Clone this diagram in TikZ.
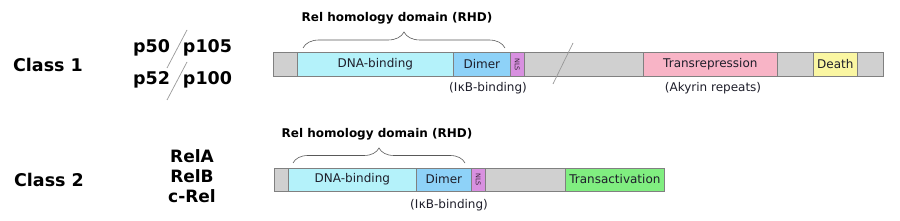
\documentclass[tikz,border=0pt]{standalone}
\usepackage{fontspec}
\setmainfont{DejaVu Sans}
\usetikzlibrary{decorations.pathreplacing}
\definecolor{segline}{HTML}{808080}
\definecolor{greyseg}{HTML}{D0D0D0}
\definecolor{dnacol}{HTML}{B4F2FA}
\definecolor{dimcol}{HTML}{8ED2F8}
\definecolor{nlscol}{HTML}{D890E0}
\definecolor{transrep}{HTML}{F8B4C6}
\definecolor{deathcol}{HTML}{FAF6A2}
\definecolor{transact}{HTML}{80EE80}
\definecolor{txtcol}{HTML}{1E1E2A}
\tikzset{
  seg/.style={draw=segline, line width=0.7pt, inner sep=0pt, anchor=west, font=\fontsize{12}{14}\selectfont, text=txtcol},
  biglab/.style={font=\bfseries\fontsize{17.5}{20}\selectfont, text=black, inner sep=0pt},
  protlab/.style={font=\bfseries\fontsize{17}{20}\selectfont, text=black, inner sep=0pt, align=center},
  rhdlab/.style={font=\bfseries\fontsize{12}{14}\selectfont, text=black, inner sep=0pt},
  sublab/.style={font=\fontsize{12}{14}\selectfont, text=txtcol, inner sep=0pt},
  nlslab/.style={font=\fontsize{6.5}{7}\selectfont, text=black!75!nlscol, rotate=-90, inner sep=0pt},
  bracestyle/.style={draw=black!65, line width=0.6pt, decorate},
  slashline/.style={draw=black!40, line width=0.7pt}
}
\begin{document}
\begin{tikzpicture}[x=1pt,y=-1pt]
\useasboundingbox (0,0) rectangle (900,221);
% left labels
\node[biglab] (c1) at (48,65) {Class 1};
\node[biglab] (c2) at (49,180) {Class 2};
\node[biglab] (p50) at (151.5,48) {p50};
\node[biglab] (p105) at (207.5,48) {p105};
\node[biglab] (p52) at (151.5,80) {p52};
\node[biglab] (p100) at (207.5,80) {p100};
\coordinate (s1a) at (187,30); \coordinate (s1b) at (167,68);
\coordinate (s2a) at (187,62); \coordinate (s2b) at (167,100);
\draw[slashline] (s1a) -- (s1b);
\draw[slashline] (s2a) -- (s2b);
\node[protlab] (rela) at (192,156) {RelA};
\node[protlab] (relb) at (192,176) {RelB};
\node[protlab] (crel) at (192,196) {c-Rel};
% class 1 bar
\def\ya{64.5}
\def\ha{23.5}
\node[seg, fill=greyseg, minimum width=24pt, minimum height=\ha pt] (g1) at (273,\ya) {};
\node[seg, fill=dnacol, minimum width=156pt, minimum height=\ha pt] (dna1) at (297,\ya) {DNA-binding};
\node[seg, fill=dimcol, minimum width=57pt, minimum height=\ha pt] (dim1) at (453,\ya) {Dimer};
\node[seg, fill=nlscol, minimum width=14pt, minimum height=\ha pt] (nls1) at (510,\ya) {};
\node[nlslab] at (nls1.center) {NLS};
\node[seg, fill=greyseg, minimum width=119pt, minimum height=\ha pt] (g2) at (524,\ya) {};
\node[seg, fill=transrep, minimum width=134pt, minimum height=\ha pt] (trep) at (643,\ya) {Transrepression};
\node[seg, fill=greyseg, minimum width=36pt, minimum height=\ha pt] (g3) at (777,\ya) {};
\node[seg, fill=deathcol, minimum width=44pt, minimum height=\ha pt] (death) at (813,\ya) {Death};
\node[seg, fill=greyseg, minimum width=26pt, minimum height=\ha pt] (g4) at (857,\ya) {};
\coordinate (b1a) at (573,43); \coordinate (b1b) at (553,84);
\draw[slashline] (b1a) -- (b1b);
\coordinate (br1a) at (303,48); \coordinate (br1b) at (505,48);
\draw[bracestyle, decoration={brace, amplitude=16pt}] (br1a) -- (br1b);
\node[rhdlab] (rhd1) at (397,18) {Rel homology domain (RHD)};
\node[sublab] (ikb1) at (488,88) {(I\kern0.5pt κB-binding)};
\node[sublab] (aky) at (713,88) {(Akyrin repeats)};
% class 2 bar
\def\yb{179.5}
\def\hb{23}
\node[seg, fill=greyseg, minimum width=14pt, minimum height=\hb pt] (h1) at (274,\yb) {};
\node[seg, fill=dnacol, minimum width=128pt, minimum height=\hb pt] (dna2) at (288,\yb) {DNA-binding};
\node[seg, fill=dimcol, minimum width=55pt, minimum height=\hb pt] (dim2) at (416,\yb) {Dimer};
\node[seg, fill=nlscol, minimum width=14pt, minimum height=\hb pt] (nls2) at (471,\yb) {};
\node[nlslab] at (nls2.center) {NLS};
\node[seg, fill=greyseg, minimum width=80pt, minimum height=\hb pt] (h2) at (485,\yb) {};
\node[seg, fill=transact, minimum width=99pt, minimum height=\hb pt] (tact) at (565,\yb) {Transactivation};
\coordinate (br2a) at (293,163); \coordinate (br2b) at (465,163);
\draw[bracestyle, decoration={brace, amplitude=15pt}] (br2a) -- (br2b);
\node[rhdlab] (rhd2) at (377,134) {Rel homology domain (RHD)};
\node[sublab] (ikb2) at (449,205) {(I\kern0.5pt κB-binding)};
\end{tikzpicture}
\end{document}
